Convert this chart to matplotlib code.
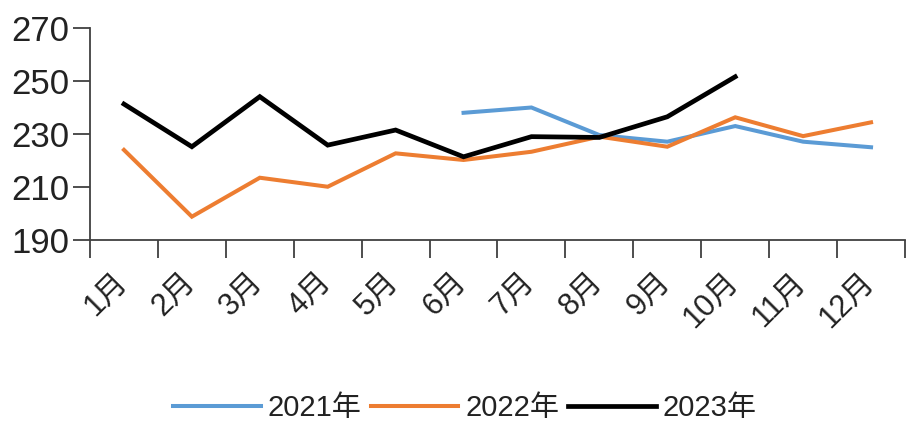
import numpy as np
import matplotlib
matplotlib.use("Agg")
import matplotlib.pyplot as plt

plt.rcParams['font.family'] = ['Liberation Sans', 'Noto Sans CJK SC', 'DejaVu Sans']

months = ['1月', '2月', '3月', '4月', '5月', '6月', '7月', '8月', '9月', '10月', '11月', '12月']
series_names = ['2021年', '2022年', '2023年']
v2021 = [np.nan, np.nan, np.nan, np.nan, np.nan, 238.0, 240.0, 229.6, 227.1, 233.0, 227.1, 225.0]
v2022 = [224.0, 198.8, 213.5, 210.1, 222.7, 220.2, 223.3, 229.0, 225.2, 236.3, 229.2, 234.4]
v2023 = [241.3, 225.2, 244.1, 225.8, 231.5, 221.4, 229.0, 228.7, 236.5, 251.6, np.nan, np.nan]
y_ticks = [190, 210, 230, 250, 270]

colors = ['#5B9BD5', '#ED7D31', '#000000']
widths = [2.9, 2.9, 3.4]

fig = plt.figure(figsize=(9.07, 4.22), dpi=100)
ax = fig.add_axes([90 / 907, 1 - 240 / 422, 815 / 907, 212 / 422])

x = np.arange(len(months)) + 0.5
for vals, name, c, lw in zip([v2021, v2022, v2023], series_names, colors, widths):
    ax.plot(x, vals, color=c, lw=lw, label=name, solid_joinstyle='miter')

ax.set_xlim(0, len(months))
ax.set_ylim(190, 270)
ax.set_yticks(y_ticks)
ax.set_yticklabels([str(t) for t in y_ticks], fontsize=25, color='#222222')

ax.set_xticks(np.arange(len(months) + 1))
ax.set_xticklabels([])
ax.set_xticks(x - 0.02, minor=True)
ax.set_xticklabels(months, minor=True, rotation=45, ha='right', va='center',
                   rotation_mode='anchor', fontsize=22, color='#222222')
ax.tick_params(axis='x', which='minor', length=0, pad=27)
ax.tick_params(axis='x', which='major', length=13, width=1.3, color='#404040', direction='out')
ax.tick_params(axis='y', length=12, width=1.3, color='#404040', direction='out', pad=3)

for s in ['top', 'right']:
    ax.spines[s].set_visible(False)
for s in ['left', 'bottom']:
    ax.spines[s].set_color('#404040')
    ax.spines[s].set_linewidth(1.3)

leg = fig.legend(loc='center', bbox_to_anchor=(465 / 907, 1 - 408 / 422), ncol=3, frameon=False,
                 fontsize=21, handlelength=3.0, handletextpad=0.25, columnspacing=0.3)
for t in leg.get_texts():
    t.set_color('#222222')

fig.savefig('out.png', dpi=100)
